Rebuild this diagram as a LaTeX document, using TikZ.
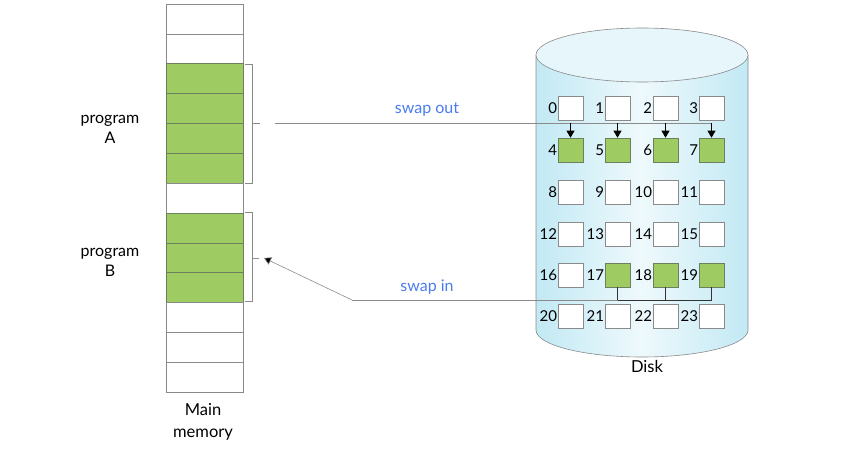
\documentclass[tikz,border=0pt]{standalone}
\usepackage{fontspec}
\setmainfont{Lato}
\usetikzlibrary{arrows.meta}
\definecolor{pgreen}{HTML}{9ECB62}
\definecolor{gedge}{HTML}{6E7F5E}
\definecolor{cedge}{HTML}{8A8A8A}
\definecolor{cylside}{HTML}{C2E9F4}
\definecolor{cylmid}{HTML}{EEF9FC}
\definecolor{cyltop}{HTML}{E6F6FB}
\definecolor{swapblue}{HTML}{4A7CF0}
\tikzset{
  cell/.style={draw=cedge, fill=white, minimum width=77pt, minimum height=29.85pt, inner sep=0pt, line width=0.6pt},
  gcell/.style={cell, fill=pgreen, draw=gedge},
  dbox/.style={draw=cedge, fill=white, minimum width=25pt, minimum height=24pt, inner sep=0pt, line width=0.6pt},
  gbox/.style={dbox, fill=pgreen, draw=gedge},
  num/.style={anchor=east, inner sep=0.5pt, font=\fontsize{15}{17}\selectfont},
  lbl/.style={align=center, font=\fontsize{16}{20}\selectfont},
  swap/.style={text=swapblue, font=\fontsize{16}{18}\selectfont},
  conn/.style={draw=cedge, line width=0.6pt},
  dconn/.style={draw=black!80, line width=0.6pt},
  darr/.style={draw=black, line width=0.6pt, -{Triangle[length=7pt,width=8pt]}},
}
\begin{document}
\begin{tikzpicture}[x=1pt,y=-1pt]
\useasboundingbox (0,0) rectangle (856,452);
% cylinder
\shade[left color=cylside, right color=cylside, middle color=cylmid]
  (536,55) -- (536,330) arc[start angle=180,end angle=0,x radius=106,y radius=27] -- (748,55) -- cycle;
\draw[cedge, line width=0.6pt] (536,55) -- (536,330) arc[start angle=180,end angle=0,x radius=106,y radius=27] -- (748,55);
\draw[cedge, fill=cyltop, line width=0.6pt] (642,55) ellipse[x radius=106, y radius=27];
% main memory
\foreach \i in {0,...,12}{
  \pgfmathsetmacro\yy{4+29.85*\i+14.925}
  \ifnum\i<2 \node[cell] (m\i) at (204.5,\yy) {};
  \else\ifnum\i<6 \node[gcell] (m\i) at (204.5,\yy) {};
  \else\ifnum\i=6 \node[cell] (m\i) at (204.5,\yy) {};
  \else\ifnum\i<10 \node[gcell] (m\i) at (204.5,\yy) {};
  \else \node[cell] (m\i) at (204.5,\yy) {};
  \fi\fi\fi\fi
}
\node[lbl] (pa) at (110,129) {program\\A};
\node[lbl] (pb) at (110,262) {program\\B};
\node[lbl, font=\fontsize{16.5}{22}\selectfont] (mm) at (203,422) {Main\\memory};
% braces
\draw[conn] (245,64) -- (252,64) -- (252,183) -- (245,183);
\draw[conn] (252,123) -- (260,123);
\coordinate (bta) at (260,123);
\draw[conn] (245,212) -- (252,212) -- (252,301) -- (245,301);
\draw[conn] (252,258) -- (259,258);
\coordinate (btb) at (264,258);
% disk boxes
\foreach \r/\yy in {0/108,1/150,2/192,3/234,4/275,5/316}{
  \foreach \c/\xx in {0/570.5,1/617.5,2/665.5,3/711.5}{
    \pgfmathtruncatemacro\n{4*\r+\c}
    \ifnum\r=1 \node[gbox] (d\n) at (\xx,\yy) {};
    \else\ifnum\r=4 \ifnum\c=0 \node[dbox] (d\n) at (\xx,\yy) {}; \else \node[gbox] (d\n) at (\xx,\yy) {}; \fi
    \else \node[dbox] (d\n) at (\xx,\yy) {};
    \fi\fi
    \node[num] (l\n) at (d\n.west) {\n};
  }
}
\node[font=\fontsize{16.5}{18}\selectfont] (disk) at (647,366) {Disk};
% swap out
\coordinate (so) at (275,123);
\draw[conn] (so) -- (d7.north |- so);
\foreach \n in {4,5,6,7}{ \draw[darr] (d\n.north |- so) -- (d\n.north); }
\node[swap] (sot) at (427,110) {swap out};
% swap in
\coordinate (si) at (352,300);
\draw[conn] (d17.south |- si) -- (si);
\draw[dconn] (d19.south) -- (d19.south |- si) -- (d17.south |- si);
\draw[dconn] (d17.south) -- (d17.south |- si);
\draw[dconn] (d18.south) -- (d18.south |- si);
\draw[conn, -{Triangle[length=7pt,width=8pt,fill=black]}] (si) -- (btb);
\node[swap] (sit) at (427,287) {swap in};
\end{tikzpicture}
\end{document}
